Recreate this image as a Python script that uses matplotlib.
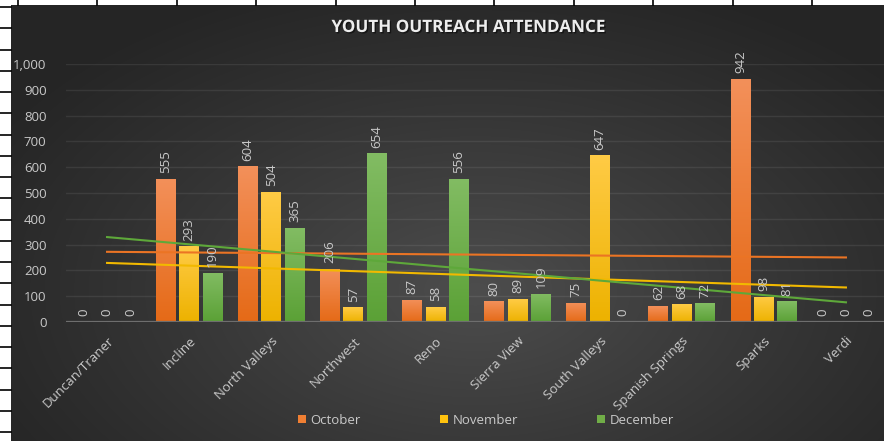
import numpy as np
import matplotlib
matplotlib.use("Agg")
import matplotlib.pyplot as plt
from matplotlib.colors import LinearSegmentedColormap
from matplotlib.patches import Patch
import matplotlib.patheffects as pe

categories = ["Duncan/Traner", "Incline", "North Valleys", "Northwest", "Reno",
              "Sierra View", "South Valleys", "Spanish Springs", "Sparks", "Verdi"]
october = [0, 555, 604, 206, 87, 80, 75, 62, 942, 0]
november = [0, 293, 504, 57, 58, 89, 647, 68, 98, 0]
december = [0, 190, 365, 654, 556, 109, 0, 72, 81, 0]
series_names = ["October", "November", "December"]
yticks = list(range(0, 1001, 100))
title = "YOUTH OUTREACH ATTENDANCE"

plt.rcParams['font.family'] = ['Open Sans', 'DejaVu Sans']

W, H = 884, 441
fig = plt.figure(figsize=(W / 100, H / 100), dpi=100)
fig.patch.set_facecolor('white')

# background (pixel coordinates)
bg = fig.add_axes([0, 0, 1, 1], zorder=-10)
bg.set_xlim(0, W)
bg.set_ylim(H, 0)
bg.axis('off')
yy, xx = np.mgrid[5:H, 11:W]
cx, cy = 475, 290
r = np.sqrt(((xx - cx) / 560.0) ** 2 + ((yy - cy) / 330.0) ** 2)
v = np.clip(1 - r, 0, 1) ** 1.1
dark, light = 0x25 / 255, 0x4d / 255
g = dark + (light - dark) * v
img = np.dstack([g, g, g])
bg.imshow(img, extent=(11, W, H, 5), aspect='auto', interpolation='bilinear', zorder=0)
for x in np.arange(18, W, 79.4):
    bg.plot([x, x], [0, 5], color='black', lw=1.2, zorder=1)
for y in np.arange(7, H, 21.25):
    bg.plot([0, 11], [y, y], color='black', lw=1.2, zorder=1)
bg.set_xlim(0, W)
bg.set_ylim(H, 0)

# main axes
ax = fig.add_axes([66 / W, (H - 322) / H, 821 / W, 258 / H])
ax.patch.set_alpha(0)
for s in ax.spines.values():
    s.set_visible(False)

x = np.arange(len(categories))
bw = 0.24
step = 0.285
series = [october, november, december]
grad_colors = [("#E56A17", "#F3905A"), ("#EDB200", "#FFCB45"), ("#5BA136", "#82BC63")]
line_colors = ["#EB7424", "#F2B900", "#5EA83A"]
label_col = "#C9C9C9"

for i, (vals, (c0, c1)) in enumerate(zip(series, grad_colors)):
    cmap = LinearSegmentedColormap.from_list("g%d" % i, [c0, c1])
    pos = x + (i - 1) * step
    bars = ax.bar(pos, vals, width=bw, color=c0, zorder=2, linewidth=0)
    for b, val in zip(bars, vals):
        if val > 0:
            x0 = b.get_x()
            grad = np.linspace(1, 0, 100).reshape(-1, 1)
            im = ax.imshow(grad, extent=(x0, x0 + b.get_width(), 0, val), aspect='auto',
                           cmap=cmap, vmin=0, vmax=1, zorder=2.5)
            im.set_clip_path(b)
        ax.annotate(str(val), (b.get_x() + b.get_width() / 2, val), xytext=(0, 4),
                    textcoords='offset points', rotation=90, ha='center', va='bottom',
                    color=label_col, fontsize=9.5, zorder=4)
    # linear trendline
    xs = np.arange(1, len(vals) + 1)
    m, c = np.polyfit(xs, vals, 1)
    ax.plot(x, m * xs + c, color=line_colors[i], lw=1.5, zorder=3)

ax.set_xlim(-0.5, len(categories) - 0.5)
ax.set_ylim(0, 1000)
ax.set_yticks(yticks)
ax.set_yticklabels([f"{t:,}" for t in yticks])
ax.yaxis.grid(True, color='#FFFFFF', alpha=0.08, lw=1)
ax.set_axisbelow(True)
ax.axhline(0, color='#6E6E6E', lw=1.6, zorder=3)
ax.tick_params(axis='y', length=0, pad=14, labelcolor=label_col, labelsize=9.5)
ax.set_xticks(x)
ax.set_xticklabels(categories, rotation=45, ha='right', rotation_mode='anchor')
ax.tick_params(axis='x', length=0, pad=9, labelcolor=label_col, labelsize=9.5)

fig.text(469 / W, 1 - 27 / H, title, ha='center', va='center', fontsize=12.3,
         fontweight='bold', color='#EDEDED',
         path_effects=[pe.withSimplePatchShadow(offset=(1, -1), shadow_rgbFace='black', alpha=0.5)])

handles = [Patch(facecolor=lc, edgecolor='none') for lc in ["#F07F33", "#FFC20E", "#70AD47"]]
fig.legend(handles, series_names, loc='center', bbox_to_anchor=(0.550, 1 - 420 / H), ncol=3,
           frameon=False, fontsize=9.5, labelcolor=label_col, handlelength=0.6,
           handleheight=0.6, handletextpad=0.35, columnspacing=6.0)

fig.savefig("out.png", dpi=100, facecolor=fig.get_facecolor())
